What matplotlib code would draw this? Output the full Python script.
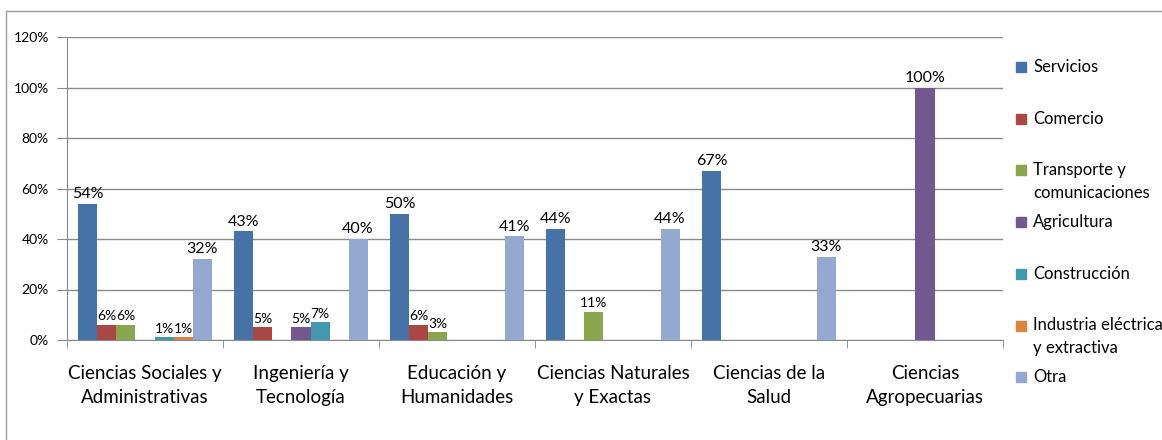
import numpy as np
import matplotlib.pyplot as plt
from matplotlib.patches import Rectangle

plt.rcParams['font.family'] = ['Lato', 'DejaVu Sans']

categorias = ["Ciencias Sociales y\nAdministrativas", "Ingeniería y\nTecnología",
              "Educación y\nHumanidades", "Ciencias Naturales\ny Exactas",
              "Ciencias de la\nSalud", "Ciencias\nAgropecuarias"]
sectores = ["Servicios", "Comercio", "Transporte y\ncomunicaciones", "Agricultura",
            "Construcción", "Industria eléctrica\ny extractiva", "Otra"]
colores = ["#4572A7", "#AA4643", "#89A54E", "#71588F", "#4198AF", "#DB843D", "#93A9CF"]

servicios = [54, 43, 50, 44, 67, 0]
comercio = [6, 5, 6, 0, 0, 0]
transporte = [6, 0, 3, 11, 0, 0]
agricultura = [0, 5, 0, 0, 0, 100]
construccion = [1, 7, 0, 0, 0, 0]
industria = [1, 0, 0, 0, 0, 0]
otra = [32, 40, 41, 44, 33, 0]
series = [servicios, comercio, transporte, agricultura, construccion, industria, otra]

W, H = 1162, 440
fig = plt.figure(figsize=(W / 100, H / 100), dpi=100)
ax = fig.add_axes([67 / W, 1 - 340 / H, 936 / W, 303 / H])

x = np.arange(len(categorias)) + 0.5
w = 0.122
for j, (vals, col) in enumerate(zip(series, colores)):
    pos = x + (j - 3) * w
    ax.bar(pos, vals, width=w, color=col, edgecolor='none', zorder=3)
    for p, v in zip(pos, vals):
        if v > 0:
            fs = 11.5 if (j == 6 or v >= 40) else 10
            ax.annotate(f"{v}%", (p, v), xytext=(0, 2), textcoords='offset points',
                        ha='center', va='bottom', fontsize=fs,
                        color='black', zorder=4)

ax.set_xlim(0, len(categorias))
ax.set_ylim(0, 120)
ax.set_yticks(range(0, 121, 20))
ax.set_yticklabels([f"{t}%" for t in range(0, 121, 20)], fontsize=10)
ax.yaxis.grid(True, color='#8a8a8a', linewidth=1, zorder=0)

ax.set_xticks(x)
ax.set_xticklabels(categorias, fontsize=13.5, linespacing=1.5)
ax.set_xticks(np.arange(len(categorias) + 1), minor=True)
ax.tick_params(axis='x', which='major', length=0, pad=18)
ax.tick_params(axis='x', which='minor', length=6, color='#8a8a8a', direction='out')
ax.tick_params(axis='y', length=7, color='#8a8a8a', direction='out', pad=6)

for s in ['top', 'right']:
    ax.spines[s].set_visible(False)
for s in ['left', 'bottom']:
    ax.spines[s].set_color('#8a8a8a')

# leyenda a la derecha, un cuadro de color por sector
for j, (nombre, col) in enumerate(zip(sectores, colores)):
    yc = 67 + j * 51.7
    fig.patches.append(Rectangle((1016 / W, 1 - (yc + 5) / H), 10 / W, 10 / H,
                                 transform=fig.transFigure, color=col))
    fig.text(1033 / W, 1 - (yc - 8) / H, nombre, fontsize=12, va='top', ha='left',
             linespacing=1.5)

# marco exterior del gráfico
fig.add_artist(plt.Line2D([6 / W, 6 / W], [0, 1 - 11 / H], transform=fig.transFigure,
                          color='#a0a0a0', linewidth=1))
fig.add_artist(plt.Line2D([6 / W, 1], [1 - 11 / H, 1 - 11 / H], transform=fig.transFigure,
                          color='#a0a0a0', linewidth=1))

fig.savefig("out.png", dpi=100)
